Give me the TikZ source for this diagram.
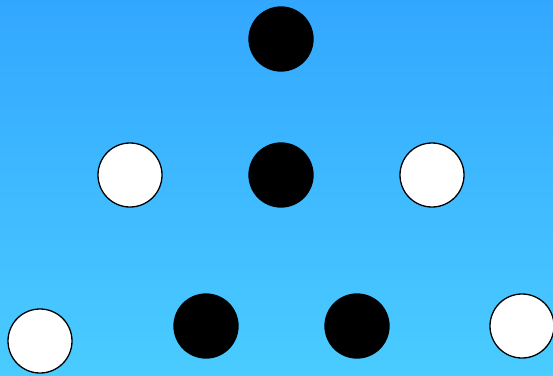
\documentclass[tikz,border=0pt]{standalone}
\begin{document}
\begin{tikzpicture}[x=1pt,y=-1pt,
  disc/.style={circle,draw=black,line width=1.3pt,minimum size=64pt,inner sep=0pt},
  blackdisc/.style={disc,fill=black},
  whitedisc/.style={disc,fill=white}]
\definecolor{bgtop}{RGB}{51,167,255}
\definecolor{bgbot}{RGB}{74,204,255}
\useasboundingbox (0,0) rectangle (553,375);
\clip (0,0) rectangle (553,375);
\shade[top color=bgtop,bottom color=bgbot] (0,0) rectangle (553,375);
\node[blackdisc] (b1) at (281,39) {};
\node[blackdisc] (b2) at (281,175) {};
\node[blackdisc] (b3) at (206,326) {};
\node[blackdisc] (b4) at (357,326) {};
\node[whitedisc] (w1) at (130,175) {};
\node[whitedisc] (w2) at (432,175) {};
\node[whitedisc] (w3) at (40,341) {};
\node[whitedisc] (w4) at (522,326) {};
\end{tikzpicture}
\end{document}
